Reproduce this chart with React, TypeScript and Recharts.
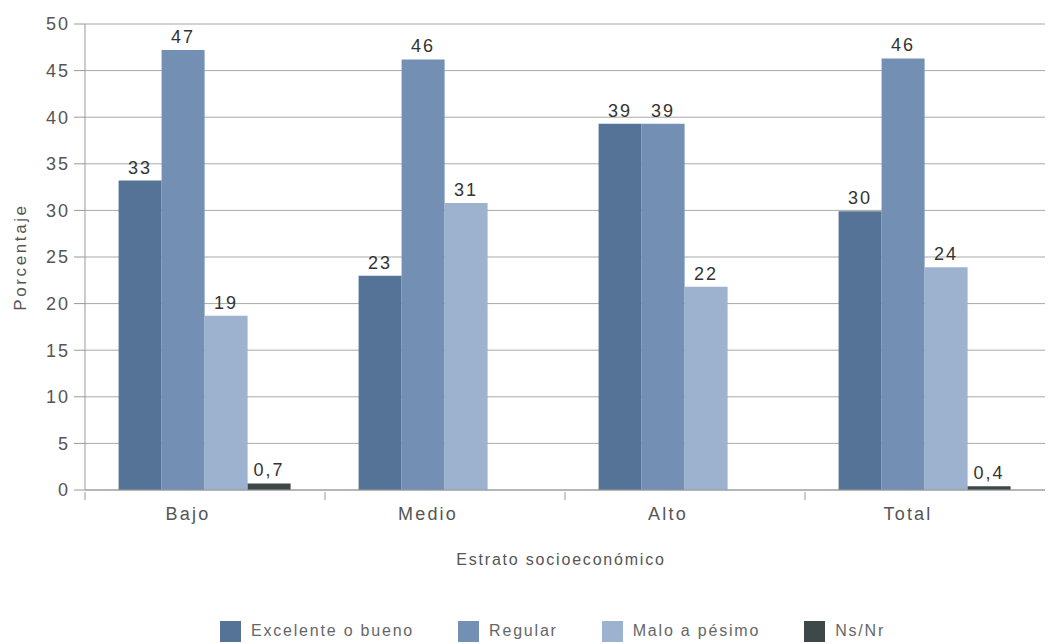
import { Bar, BarChart, CartesianGrid, LabelList, Legend, XAxis, YAxis } from "recharts";

// Percent by socioeconomic stratum; labels on bars are rounded like the source.
const categories = ["Bajo", "Medio", "Alto", "Total"];
const excelente = [33.2, 23.0, 39.3, 29.9];
const regular = [47.2, 46.2, 39.3, 46.3];
const malo = [18.7, 30.8, 21.8, 23.9];
const nsnr: (number | null)[] = [0.7, null, null, 0.4];
const yTicks = [0, 5, 10, 15, 20, 25, 30, 35, 40, 45, 50];

const series = [
  { key: "excelente", name: "Excelente o bueno", color: "#557396" },
  { key: "regular", name: "Regular", color: "#7390b4" },
  { key: "malo", name: "Malo a pésimo", color: "#9db2cf" },
  { key: "nsnr", name: "Ns/Nr", color: "#3e4848" },
];

const data = categories.map((name, i) => ({
  name,
  excelente: excelente[i],
  regular: regular[i],
  malo: malo[i],
  nsnr: nsnr[i],
}));

const FONT = "'Liberation Sans', Arial, sans-serif";

const fmt = (v: unknown) => {
  if (v == null || v === "") return "";
  const n = Number(v);
  return n < 1 ? String(n).replace(".", ",") : String(Math.round(n));
};

function CategoryTick(props: any) {
  const { x, y, payload } = props;
  const half = payload?.offset ?? 0;
  return (
    <g>
      <line x1={x - half} x2={x - half} y1={y - 6} y2={y + 2} stroke="#999" />
      <text
        x={x - 17}
        y={y + 22}
        textAnchor="middle"
        fill="#555"
        fontSize={18}
        fontFamily={FONT}
        style={{ letterSpacing: 2.2 }}
      >
        {payload.value}
      </text>
    </g>
  );
}

function LegendRow() {
  return (
    <div
      style={{
        display: "flex",
        justifyContent: "center",
        height: 26,
        alignItems: "center",
        fontFamily: FONT,
        paddingLeft: 60,
      }}
    >
      {series.map((s) => (
        <div key={s.key} style={{ display: "flex", alignItems: "center", margin: "0 22px" }}>
          <span style={{ display: "inline-block", width: 21, height: 21, background: s.color, marginRight: 10 }} />
          <span style={{ fontSize: 16, color: "#666", letterSpacing: 1.8 }}>{s.name}</span>
        </div>
      ))}
    </div>
  );
}

export default function App() {
  return (
    <div style={{ position: "absolute", left: 0, top: 0, background: "#fff" }}>
      <BarChart
        width={1049}
        height={644}
        data={data}
        margin={{ top: 24, right: 4, bottom: 0, left: 0 }}
        barCategoryGap="14%"
        barGap={0}
      >
        <CartesianGrid vertical={false} stroke="#a8a8a8" />
        <XAxis
          dataKey="name"
          height={128}
          stroke="#999"
          tickLine={false}
          tick={<CategoryTick />}
          label={{
            value: "Estrato socioeconómico",
            position: "insideTop",
            offset: 64,
            dx: -4,
            fill: "#555",
            fontSize: 16,
            fontFamily: FONT,
            style: { letterSpacing: 1.8 },
          }}
        />
        <YAxis
          width={85}
          domain={[0, 50]}
          ticks={yTicks}
          interval={0}
          stroke="#999"
          tickSize={11}
          tickMargin={4}
          tick={{ fill: "#555", fontSize: 18, fontFamily: FONT, style: { letterSpacing: 2 } }}
          label={{
            value: "Porcentaje",
            angle: -90,
            position: "center",
            dx: -23,
            fill: "#555",
            fontSize: 17,
            fontFamily: FONT,
            style: { letterSpacing: 2.6 },
          }}
        />
        <Legend verticalAlign="bottom" content={<LegendRow />} />
        {series.map((s) => (
          <Bar key={s.key} dataKey={s.key} name={s.name} fill={s.color} isAnimationActive={false}>
            <LabelList
              dataKey={s.key}
              position="top"
              offset={7}
              formatter={fmt}
              style={{ fill: "#333", fontSize: 18, fontFamily: FONT, letterSpacing: 2 }}
            />
          </Bar>
        ))}
      </BarChart>
    </div>
  );
}
